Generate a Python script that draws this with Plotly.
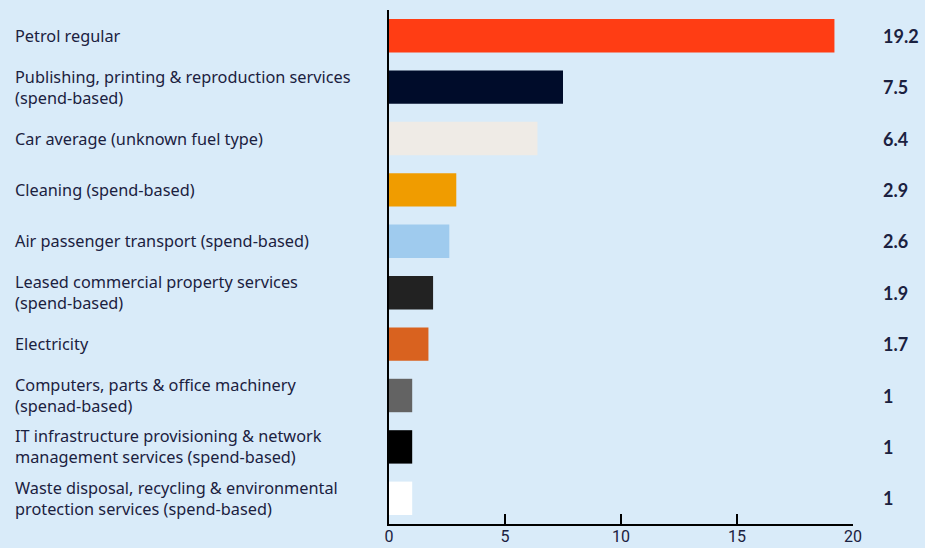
import plotly.graph_objects as go

categories = [
    "Petrol regular",
    "Publishing, printing & reproduction services<br>(spend-based)",
    "Car average (unknown fuel type)",
    "Cleaning (spend-based)",
    "Air passenger transport (spend-based)",
    "Leased commercial property services<br>(spend-based)",
    "Electricity",
    "Computers, parts & office machinery<br>(spenad-based)",
    "IT infrastructure provisioning & network<br>management services (spend-based)",
    "Waste disposal, recycling & environmental<br>protection services (spend-based)",
]
values = [19.2, 7.5, 6.4, 2.9, 2.6, 1.9, 1.7, 1, 1, 1]
value_labels = ["19.2", "7.5", "6.4", "2.9", "2.6", "1.9", "1.7", "1", "1", "1"]
colors = ["#ff3d14", "#000c2a", "#efebe6", "#f09c00", "#9fcbee",
          "#222222", "#d9621f", "#636363", "#000000", "#ffffff"]
x_ticks = [0, 5, 10, 15, 20]

BG = "#d9ebf9"
TXT = "#1b2140"

idx = list(range(len(categories)))

fig = go.Figure(go.Bar(
    x=values, y=idx, orientation="h",
    marker=dict(color=colors, line=dict(width=0)),
    width=0.65, hoverinfo="skip",
))

annotations = []
for i, (c, v) in enumerate(zip(categories, value_labels)):
    annotations.append(dict(
        x=0, xref="paper", y=i, yref="y", text=c, showarrow=False,
        xanchor="left", yanchor="middle", align="left", xshift=-376,
        font=dict(family="Noto Sans, sans-serif", size=16.3, color=TXT),
    ))
    annotations.append(dict(
        x=1, xref="paper", y=i, yref="y", text="<b>" + v + "</b>", showarrow=False,
        xanchor="left", yanchor="middle", align="left", xshift=28,
        font=dict(family="Lato, sans-serif", size=18, color=TXT),
    ))

fig.update_layout(
    width=925, height=548,
    margin=dict(l=389, r=72, t=10, b=24),
    paper_bgcolor=BG, plot_bgcolor=BG,
    showlegend=False,
    annotations=annotations,
    xaxis=dict(
        range=[0, 20], tickvals=x_ticks, ticktext=[str(t) for t in x_ticks],
        showgrid=False, zeroline=False, showline=True, linecolor="#000000", linewidth=2,
        ticks="inside", ticklen=10, tickwidth=2, tickcolor="#000000",
        tickfont=dict(family="Roboto, sans-serif", size=16, color=TXT),
        ticklabelstandoff=-3,
        automargin=False, fixedrange=True,
    ),
    yaxis=dict(
        range=[len(categories) - 0.5, -0.5], showticklabels=False,
        showgrid=False, zeroline=False, showline=True, linecolor="#000000", linewidth=2,
        ticks="", automargin=False, fixedrange=True,
    ),
)

fig.write_html("out.html", config={"displayModeBar": False},
               post_script="document.body.style.margin='0';document.body.style.background='%s';" % BG)
